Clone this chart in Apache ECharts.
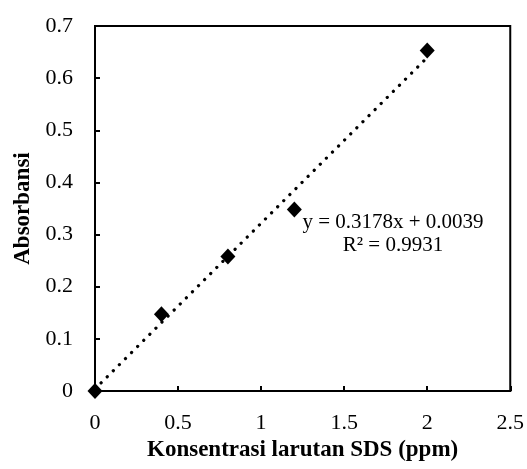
<!DOCTYPE html>
<html>
<head>
<meta charset="utf-8">
<script src="https://cdn.jsdelivr.net/npm/echarts@6/dist/echarts.min.js"></script>
<style>
  html, body { margin: 0; padding: 0; background: #fff; }
  #chart { width: 527px; height: 469px; }
</style>
</head>
<body>
<div id="chart"></div>
<script>
    'use strict';

    // measured points
    var konsentrasi = [0, 0.4, 0.8, 1.2, 2];
    var absorbansi = [0, 0.147, 0.258, 0.348, 0.653];

    // linear trendline from the chart label
    var slope = 0.3178;
    var intercept = 0.0039;
    var trendX = [0, 2];

    var xTicks = [0, 0.5, 1, 1.5, 2, 2.5];
    var yTicks = [0, 0.1, 0.2, 0.3, 0.4, 0.5, 0.6, 0.7];

    var font = 'Liberation Serif, Times New Roman, serif';

    var points = konsentrasi.map(function (x, i) { return [x, absorbansi[i]]; });
    var trend = trendX.map(function (x) { return [x, slope * x + intercept]; });

    var chart = echarts.init(document.getElementById('chart'));
    chart.setOption({
        animation: false,
        grid: {
            left: 95, right: 16, top: 26, bottom: 78,
            show: true, borderColor: '#000', borderWidth: 2
        },
        xAxis: {
            type: 'value',
            min: xTicks[0], max: xTicks[xTicks.length - 1], interval: 0.5,
            name: 'Konsentrasi larutan SDS (ppm)',
            nameLocation: 'middle', nameGap: 46,
            nameTextStyle: { fontFamily: font, fontSize: 23, fontWeight: 'bold', color: '#000' },
            axisLine: { lineStyle: { color: '#000', width: 2 } },
            axisTick: { inside: true, length: 5, lineStyle: { color: '#000', width: 2 } },
            axisLabel: { fontFamily: font, fontSize: 22, color: '#000', margin: 21 },
            splitLine: { show: false }
        },
        yAxis: {
            type: 'value',
            min: yTicks[0], max: yTicks[yTicks.length - 1], interval: 0.1,
            name: 'Absorbansi',
            nameLocation: 'middle', nameGap: 60,
            nameTextStyle: { fontFamily: font, fontSize: 23, fontWeight: 'bold', color: '#000' },
            axisLine: { lineStyle: { color: '#000', width: 2 } },
            axisTick: { inside: true, length: 5, lineStyle: { color: '#000', width: 2 } },
            axisLabel: { fontFamily: font, fontSize: 22, color: '#000', margin: 22 },
            splitLine: { show: false }
        },
        series: [
            {
                type: 'line',
                data: trend,
                symbol: 'none',
                lineStyle: { color: '#000', width: 3.2, type: [0.1, 8.5], cap: 'round' },
                z: 2
            },
            {
                type: 'scatter',
                data: points,
                symbol: 'diamond',
                symbolSize: [15, 16],
                itemStyle: { color: '#000', opacity: 1 },
                z: 3
            }
        ],
        graphic: [{
            type: 'text',
            x: 393, y: 211,
            style: {
                text: 'y = 0.3178x + 0.0039\nR² = 0.9931',
                fontFamily: font, fontSize: 21, lineHeight: 23,
                fill: '#000', align: 'center', verticalAlign: 'top'
            }
        }]
    });
</script>
</body>
</html>
